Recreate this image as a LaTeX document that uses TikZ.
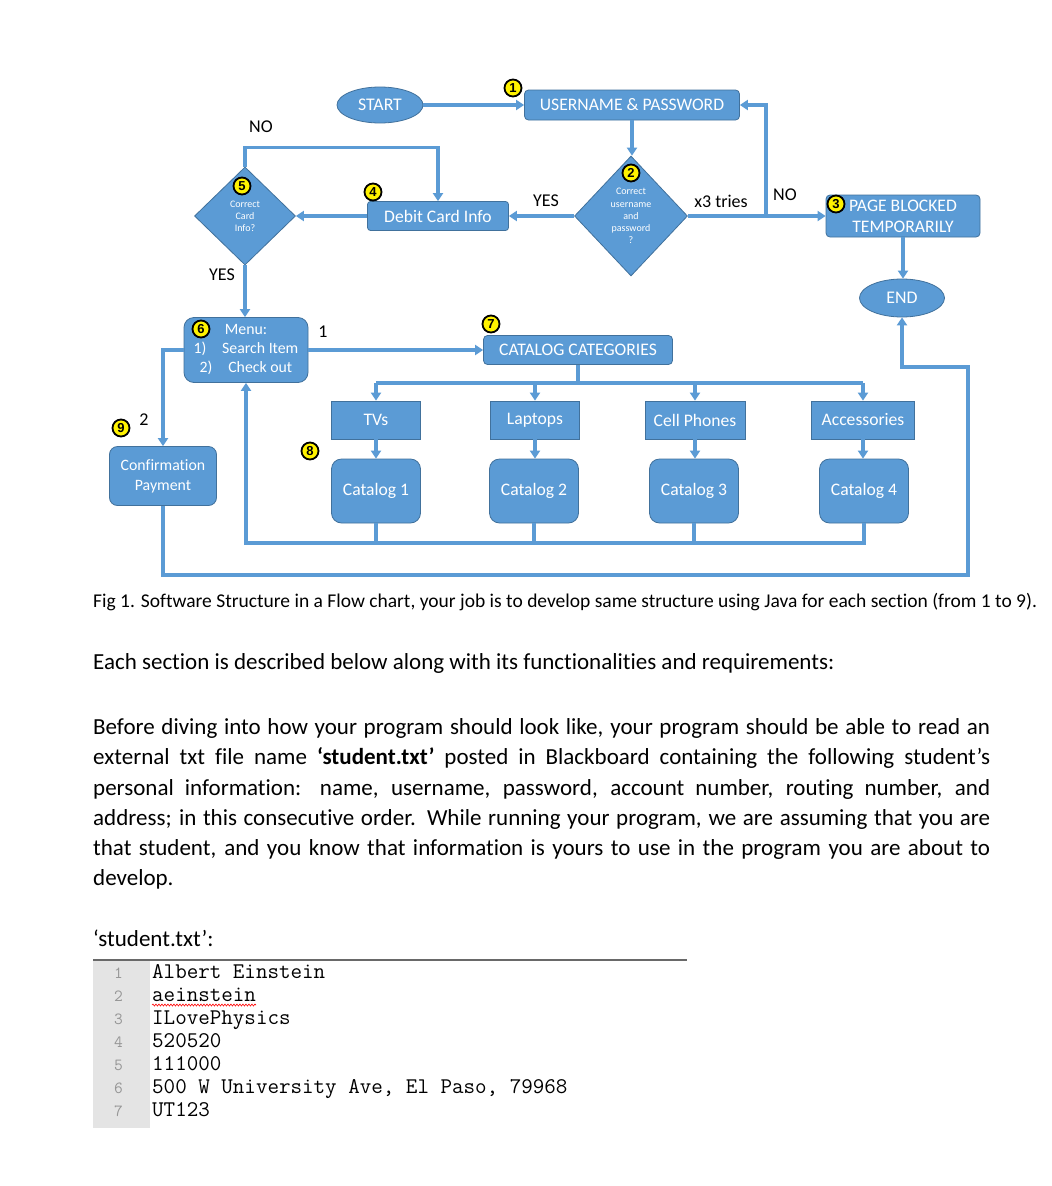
\documentclass[tikz,border=0pt]{standalone}
\usepackage{fontspec}
\setmainfont{Carlito}[Ligatures=NoCommon]
\newfontfamily\badgefont{Liberation Sans}
\usetikzlibrary{shapes.geometric,arrows.meta,decorations.pathmorphing}

\definecolor{flowblue}{RGB}{91,155,213}
\definecolor{flowedge}{RGB}{65,113,156}
\definecolor{guttergray}{RGB}{228,228,228}
\definecolor{numgray}{RGB}{150,150,150}
\definecolor{rulegray}{RGB}{105,105,105}

\tikzset{
  flowbox/.style={draw=flowedge,line width=0.8pt,fill=flowblue,text=white,inner sep=0pt,align=center,font=\fontsize{17.6}{21}\selectfont},
  decision/.style={flowbox,diamond,font=\fontsize{10}{12.2}\selectfont},
  terminal/.style={flowbox,ellipse,font=\fontsize{17.8}{21}\selectfont},
  category/.style={flowbox,minimum height=38pt},
  catalog/.style={flowbox,rounded corners=10pt,minimum width=89pt,minimum height=64pt},
  badge/.style={circle,draw=black,line width=1.8pt,fill=yellow,inner sep=0pt,minimum size=17pt,font=\badgefont\bfseries\fontsize{13}{13}\selectfont},
  lbl/.style={inner sep=0pt,font=\fontsize{18}{21}\selectfont},
  flow/.style={draw=flowblue,line width=3.2pt,-{Triangle[length=8pt,width=10pt]}},
  wire/.style={draw=flowblue,line width=3.2pt},
  body/.style={inner sep=0pt,font=\fontsize{23}{30.2}\selectfont},
}

\begin{document}
\begin{tikzpicture}[x=1pt,y=-1pt]
\fill[white] (0,0) rectangle (1052,1186);
\useasboundingbox (0,0) rectangle (1052,1186);

% login part
\node[terminal,minimum width=86pt,minimum height=36pt] (start) at (380,105) {START};
\node[flowbox,rounded corners=4pt,minimum width=215pt,minimum height=30pt] (login) at (632,105) {USERNAME \& PASSWORD};
\node[decision,minimum width=113pt,minimum height=120pt] (checklogin) at (631,216) {Correct\\username\\and\\password\\?};
\node[flowbox,rounded corners=4pt,minimum width=154pt,minimum height=42pt] (blocked) at (903,216) {PAGE BLOCKED\\TEMPORARILY};
\node[terminal,minimum width=85pt,minimum height=38pt] (finish) at (902,298) {END};

% card part
\node[flowbox,rounded corners=3pt,minimum width=141pt,minimum height=29pt] (debit) at (438,216) {Debit Card Info};
\node[decision,minimum width=101pt,minimum height=98pt] (checkcard) at (245,216) {Correct\\Card\\Info?};
\node[flowbox,rounded corners=10pt,minimum width=124pt,minimum height=65pt,font=\fontsize{15.8}{19}\selectfont] (menu) at (246,350) {Menu:\\1)\quad Search Item\\2)\quad Check out};
\node[flowbox,rounded corners=4pt,minimum width=189pt,minimum height=29pt] (categories) at (578,350) {CATALOG CATEGORIES};
\node[flowbox,rounded corners=8pt,minimum width=107pt,minimum height=59pt,font=\fontsize{15.8}{20}\selectfont] (confirm) at (163,476) {Confirmation\\Payment};

% catalogs
\foreach \name/\x/\w/\txt in {tvs/376/89/TVs,laptops/535/89/Laptops,phones/695/100/Cell Phones,accessories/863/103/Accessories}
  \node[category,minimum width=\w pt] (\name) at (\x,420) {\txt};
\foreach \x/\n in {376/1,534/2,694/3,864/4}
  \node[catalog] (cat\n) at (\x,491) {Catalog \n};

% badges
\node[badge] (b1) at (513,88) {1};
\node[badge] (b2) at (631,173) {2};
\node[badge] (b3) at (836,204) {3};
\node[badge] (b4) at (373,192) {4};
\node[badge] (b5) at (242,186) {5};
\node[badge] (b6) at (201,329) {6};
\node[badge] (b7) at (491,324) {7};
\node[badge] (b8) at (310,451) {8};
\node[badge] (b9) at (121,428) {9};

% labels
\node[lbl] (nocard) at (261,127) {NO};
\node[lbl] (yescard) at (222,275) {YES};
\node[lbl] (yeslogin) at (546,201) {YES};
\node[lbl] (tries) at (721,201) {x3 tries};
\node[lbl] (nologin) at (785,195) {NO};
\node[lbl] (optone) at (323,332) {1};
\node[lbl] (opttwo) at (144,420) {2};

% connectors
\coordinate (retry) at (766,216);
\coordinate (busfront) at (376,383);
\coordinate (busback) at (246,543);
\coordinate (loopbottom) at (163,575);
\coordinate (loopcorner) at (968,367);

\draw[flow] (start) -- (login);
\draw[flow] (login.south) -- (login.south |- checklogin.north);
\draw[flow] (checklogin.east) -- (checklogin.east -| blocked.west);
\draw[flow] (retry) |- (login.east);
\draw[flow] (blocked.south) -- (blocked.south |- finish.north);
\draw[flow] (checklogin.west) -- (debit.east);
\draw[flow] (debit.west) -- (checkcard.east);
\draw[flow] (checkcard.north) -- ++(0,-19) -| (debit.north);
\draw[flow] (checkcard.south) -- (checkcard.south |- menu.north);
\draw[flow] (menu.east) -- (categories.west);
\draw[flow] (menu.west) -| (confirm.north);

\draw[wire] (categories.south) -- (categories.south |- busfront);
\draw[wire] (tvs.north |- busfront) -- (accessories.north |- busfront);
\foreach \c in {tvs,laptops,phones,accessories}
  \draw[flow] (\c.north |- busfront) -- (\c.north);
\foreach \a/\b in {tvs/cat1,laptops/cat2,phones/cat3,accessories/cat4}
  \draw[flow] (\a.south) -- (\a.south |- \b.north);
\foreach \c in {cat1,cat2,cat3}
  \draw[wire] (\c.south) -- (\c.south |- busback);
\draw[flow] (cat4.south) |- (busback) -- (menu.south);
\draw[flow] (confirm.south) -- (loopbottom) -| (loopcorner) -| (finish.south);

% text of the page
\node[anchor=base west,inner sep=0pt,font=\fontsize{19.5}{23}\selectfont] (caption) at (93,607) {Fig 1. Software Structure in a Flow chart, your job is to develop same structure using Java for each section (from 1 to 9).};
\node[anchor=base west,body] (intro) at (93,669) {Each section is described below along with its functionalities and requirements:};
\node[anchor=north west,body,text width=897pt,align=justify] (para) at (93,718.5) {Before diving into how your program should look like, your program should be able to read an\linebreak
external txt file name \textbf{‘student.txt’} posted in Blackboard containing the following student’s\linebreak
personal information: name, username, password, account number, routing number, and\linebreak
address; in this consecutive order. While running your program, we are assuming that you are\linebreak
that student, and you know that information is yours to use in the program you are about to\linebreak
develop.};
\node[anchor=base west,body] (filename) at (93,946) {‘student.txt’:};

% file listing
\fill[guttergray] (93,961) rectangle (150,1128);
\draw[rulegray,line width=2pt] (93,960) -- (687,960);
\foreach \i/\txt in {1/Albert Einstein,2/aeinstein,3/ILovePhysics,4/520520,5/111000,6/{500 W University Ave, El Paso, 79968},7/UT123} {
  \node[anchor=base east,inner sep=0pt,text=numgray,font=\ttfamily\fontsize{17}{17}\selectfont] (num\i) at (123,978+23*\i-23) {\i};
  \node[anchor=base west,inner sep=0pt,font=\ttfamily\fontsize{22.4}{23}\selectfont] (code\i) at (152,978+23*\i-23) {\txt};
}
\draw[red,line width=0.6pt,decorate,decoration={snake,amplitude=1pt,segment length=3pt}] ([yshift=-4pt]code2.base west) -- ([yshift=-4pt]code2.base east);
\end{tikzpicture}
\end{document}
